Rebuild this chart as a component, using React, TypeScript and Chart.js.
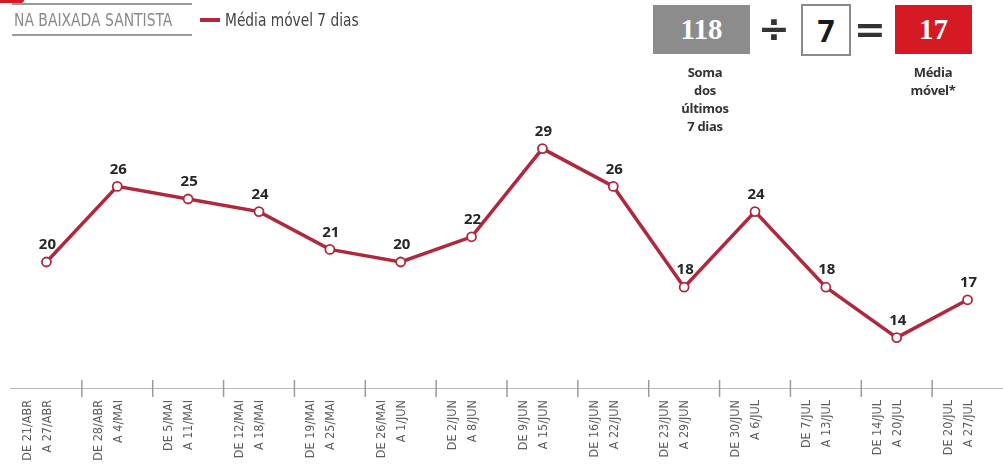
import React, { useEffect, useRef } from "react";
import { Chart, registerables } from "chart.js";

Chart.register(...registerables);

const categories: string[][] = [
  ["DE 21/ABR", "A 27/ABR"],
  ["DE 28/ABR", "A 4/MAI"],
  ["DE 5/MAI", "A 11/MAI"],
  ["DE 12/MAI", "A 18/MAI"],
  ["DE 19/MAI", "A 25/MAI"],
  ["DE 26/MAI", "A 1/JUN"],
  ["DE 2/JUN", "A 8/JUN"],
  ["DE 9/JUN", "A 15/JUN"],
  ["DE 16/JUN", "A 22/JUN"],
  ["DE 23/JUN", "A 29/JUN"],
  ["DE 30/JUN", "A 6/JUL"],
  ["DE 7/JUL", "A 13/JUL"],
  ["DE 14/JUL", "A 20/JUL"],
  ["DE 20/JUL", "A 27/JUL"],
];

const movingAverage: number[] = [20, 26, 25, 24, 21, 20, 22, 29, 26, 18, 24, 18, 14, 17];

const seriesName = "Média móvel 7 dias";
const regionTitle = "NA BAIXADA SANTISTA";
const sumValue = "118";
const divisor = "7";
const resultValue = "17";
const sumCaption = ["Soma", "dos", "últimos", "7 dias"];
const resultCaption = ["Média", "móvel*"];

const RED_LINE = "#b0283c";
const NARROW = "'Liberation Sans Narrow','DejaVu Sans Condensed','Roboto Condensed',sans-serif";

const valueLabels = {
  id: "valueLabels",
  afterDatasetsDraw(chart: any) {
    const ctx = chart.ctx;
    const meta = chart.getDatasetMeta(0);
    ctx.save();
    ctx.font = "bold 15px 'Open Sans', sans-serif";
    ctx.fillStyle = "#262626";
    ctx.textAlign = "center";
    ctx.textBaseline = "middle";
    meta.data.forEach((pt: any, i: number) => {
      ctx.fillText(String(chart.data.datasets[0].data[i]), pt.x + 1, pt.y - 17);
    });
    ctx.restore();
  },
};

const axisTicks = {
  id: "axisTicks",
  afterDraw(chart: any) {
    const ctx = chart.ctx;
    const xs = chart.scales.x;
    const y = chart.chartArea.bottom;
    ctx.save();
    ctx.strokeStyle = "#b8b8b8";
    ctx.lineWidth = 1.2;
    ctx.beginPath();
    ctx.moveTo(10, y + 0.5);
    ctx.lineTo(chart.width, y + 0.5);
    ctx.stroke();
    ctx.strokeStyle = "#9a9a9a";
    ctx.lineWidth = 1.5;
    for (let i = 0; i < categories.length - 1; i++) {
      const bx = (xs.getPixelForValue(i) + xs.getPixelForValue(i + 1)) / 2;
      ctx.beginPath();
      ctx.moveTo(bx, y - 8);
      ctx.lineTo(bx, y + 9);
      ctx.stroke();
    }
    ctx.restore();
  },
};

export default function App() {
  const canvasRef = useRef<HTMLCanvasElement | null>(null);

  useEffect(() => {
    if (!canvasRef.current) return;
    const chart = new Chart(canvasRef.current, {
      type: "line",
      data: {
        labels: categories,
        datasets: [
          {
            label: seriesName,
            data: movingAverage,
            borderColor: RED_LINE,
            borderWidth: 3.5,
            tension: 0,
            pointRadius: 4.5,
            pointBackgroundColor: "#ffffff",
            pointBorderColor: RED_LINE,
            pointBorderWidth: 1.8,
          },
        ],
      },
      options: {
        animation: false,
        responsive: true,
        maintainAspectRatio: false,
        layout: { autoPadding: false, padding: { left: 11, right: 0, top: 10, bottom: 0 } },
        plugins: { legend: { display: false }, tooltip: { enabled: false } },
        scales: {
          x: {
            offset: true,
            grid: { display: false, drawTicks: false, tickLength: 0 },
            border: { display: false },
            afterFit: (scale: any) => {
              scale.height = 79;
              scale.paddingLeft = 0;
              scale.paddingRight = 0;
            },
            ticks: {
              autoSkip: false,
              minRotation: 90,
              maxRotation: 90,
              padding: 12,
              labelOffset: -19,
              color: "#5e5e5e",
              font: { family: NARROW, size: 12.5, weight: 500, lineHeight: 1.6 },
            },
          },
          y: { display: false, min: 10, max: 40 },
        },
      },
      plugins: [valueLabels, axisTicks],
    });
    return () => chart.destroy();
  }, []);

  const box: React.CSSProperties = {
    position: "absolute",
    display: "flex",
    alignItems: "center",
    justifyContent: "center",
    boxSizing: "border-box",
  };

  return (
    <div style={{ position: "absolute", left: 0, top: 0, width: 1003, height: 467, background: "#fff", overflow: "hidden" }}>
      <canvas ref={canvasRef} style={{ position: "absolute", left: 0, top: 0 }} />
      <div style={{ position: "absolute", left: 0, top: 0, width: 1003, height: 467, pointerEvents: "none" }}>
        <div style={{ position: "absolute", left: 0, top: 0, width: 24, height: 3, background: "#d51a24", borderRadius: "0 0 4px 0" }} />
        <div style={{ position: "absolute", left: 12, top: 3, width: 180, height: 2, background: "#9a9a9a" }} />
        <div style={{ position: "absolute", left: 12, top: 34, width: 180, height: 2, background: "#9a9a9a" }} />
        <div style={{ position: "absolute", left: 14, top: 8, fontFamily: NARROW, fontSize: 18, color: "#8a8a8a", whiteSpace: "nowrap", lineHeight: "24px", transform: "scaleX(0.86)", transformOrigin: "0 50%" }}>
          {regionTitle}
        </div>
        <div style={{ position: "absolute", left: 200, top: 18, width: 20, height: 4, background: RED_LINE }} />
        <div style={{ position: "absolute", left: 225, top: 8, fontFamily: NARROW, fontSize: 17, color: "#444", whiteSpace: "nowrap", lineHeight: "24px", transform: "scaleX(0.9)", transformOrigin: "0 50%" }}>
          {seriesName}
        </div>

        <div style={{ ...box, left: 653, top: 5, width: 97, height: 49, background: "#8c8c8c", color: "#fff", fontFamily: "'Liberation Serif', serif", fontWeight: 700, fontSize: 29 }}>
          {sumValue}
        </div>
        <div style={{ ...box, left: 756, top: 3, width: 36, height: 52, color: "#333", fontFamily: "'DejaVu Sans', sans-serif", fontSize: 38, fontWeight: 700 }}>
          ÷
        </div>
        <div style={{ ...box, left: 801, top: 4, width: 50, height: 52, border: "2px solid #8a8a8a", background: "#fff", color: "#1a1a1a", fontFamily: "'Open Sans', sans-serif", fontWeight: 700, fontSize: 30 }}>
          {divisor}
        </div>
        <div style={{ ...box, left: 855, top: 3, width: 30, height: 52, color: "#333", fontFamily: "'DejaVu Sans', sans-serif", fontSize: 38, fontWeight: 700 }}>
          =
        </div>
        <div style={{ ...box, left: 895, top: 5, width: 77, height: 49, background: "#d51a24", color: "#fff", fontFamily: "'Liberation Serif', serif", fontWeight: 700, fontSize: 29 }}>
          {resultValue}
        </div>
        <div style={{ position: "absolute", left: 655, top: 63, width: 100, textAlign: "center", fontFamily: "'Open Sans', sans-serif", fontWeight: 700, fontSize: 13, lineHeight: "18px", color: "#333", letterSpacing: -0.3 }}>
          {sumCaption.map((t) => (
            <div key={t}>{t}</div>
          ))}
        </div>
        <div style={{ position: "absolute", left: 883, top: 63, width: 100, textAlign: "center", fontFamily: "'Open Sans', sans-serif", fontWeight: 700, fontSize: 13, lineHeight: "18px", color: "#333", letterSpacing: -0.3 }}>
          {resultCaption.map((t) => (
            <div key={t}>{t}</div>
          ))}
        </div>
      </div>
    </div>
  );
}
